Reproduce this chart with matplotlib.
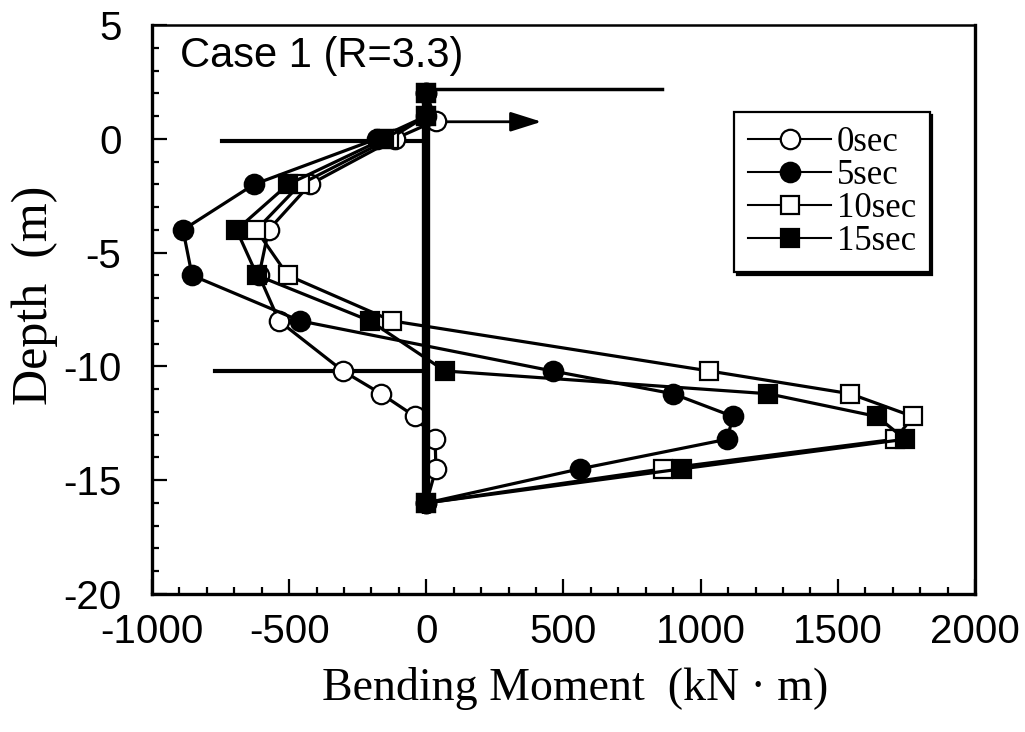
import matplotlib
matplotlib.use('Agg')
import matplotlib.pyplot as plt
from matplotlib.ticker import MultipleLocator

plt.rcParams['axes.unicode_minus'] = False

# depth of the gauges (m)
depth_0 = [2.0, 0.8, 0.0, -2, -4, -6, -8, -10.2, -11.2, -12.2, -13.2, -14.5, -16]
depth_n = [2.0, 1.0, 0.0, -2, -4, -6, -8, -10.2, -11.2, -12.2, -13.2, -14.5, -16]

# bending moment (kN m)
m_0sec = [0, 35, -115, -424, -575, -610, -537, -304, -165, -41, 32, 35, 0]
m_5sec = [0, 0, -180, -628, -887, -854, -460, 460, 899, 1118, 1096, 560, 0]
m_10sec = [0, 0, -135, -460, -620, -505, -125, 1031, 1545, 1774, 1709, 863, 0]
m_15sec = [0, 0, -155, -504, -692, -617, -205, 68, 1246, 1643, 1745, 932, 0]

labels = ['0sec', '5sec', '10sec', '15sec']

sans = ['Liberation Sans', 'DejaVu Sans']
serif = ['Liberation Serif', 'DejaVu Serif']

fig = plt.figure(figsize=(10.25, 7.32), dpi=100)
ax = fig.add_axes([0.1483, 0.1885, 0.8029, 0.7773])

mk = dict(color='k', lw=2.3, markersize=14, markeredgewidth=1.6, markeredgecolor='k', zorder=3)
ax.plot(m_0sec, depth_0, marker='o', markerfacecolor='white', label=labels[0], **mk)
ax.plot(m_5sec, depth_n, marker='o', markerfacecolor='k', label=labels[1], **mk)
ax.plot(m_10sec, depth_n, marker='s', markerfacecolor='white', label=labels[2],
        **{**mk, 'markersize': 13})
ax.plot(m_15sec, depth_n, marker='s', markerfacecolor='k', label=labels[3],
        **{**mk, 'markersize': 13})

# pile and level lines
ax.plot([0, 0], [2.45, -16.5], color='k', lw=6, solid_capstyle='butt', zorder=4)
ax.plot([0, 860], [2.2, 2.2], color='k', lw=2.5, zorder=2)
ax.plot([-745, 0], [-0.1, -0.1], color='k', lw=3, zorder=2)
ax.plot([-770, 0], [-10.2, -10.2], color='k', lw=3, zorder=2)
ax.annotate('', xy=(420, 0.75), xytext=(0, 0.75),
            arrowprops=dict(arrowstyle='-|>,head_length=0.95,head_width=0.3',
                            lw=2, color='k', mutation_scale=20,
                            shrinkA=0, shrinkB=0), zorder=2)

ax.set_xlim(-1000, 2000)
ax.set_ylim(-20, 5)
ax.xaxis.set_major_locator(MultipleLocator(500))
ax.xaxis.set_minor_locator(MultipleLocator(100))
ax.yaxis.set_major_locator(MultipleLocator(5))
ax.yaxis.set_minor_locator(MultipleLocator(1))
ax.tick_params(which='both', direction='in', width=1.6, top=False, right=False)
ax.tick_params(which='major', length=11)
ax.tick_params(which='minor', length=5)
ax.tick_params(axis='y', pad=22)
ax.tick_params(axis='x', pad=14)
for lab in ax.get_xticklabels() + ax.get_yticklabels():
    lab.set_fontfamily(sans)
    lab.set_fontsize(29)
for s in ax.spines.values():
    s.set_linewidth(2.4)
ax.spines['top'].set_linewidth(1.8)

ax.text(0.034, 0.926, 'Case 1 (R=3.3)', transform=ax.transAxes,
        family=sans, fontsize=30, va='baseline', ha='left')

fig.text(0.561, 0.06, 'Bending Moment  (kN \u00b7 m)', family=serif, fontsize=33,
         ha='center', va='center')
fig.text(0.034, 0.597, 'Depth  (m)', family=serif, fontsize=36,
         ha='center', va='center', rotation=90)

leg = ax.legend(loc='upper right', bbox_to_anchor=(0.945, 0.847), fancybox=False,
                shadow={'color': 'k', 'alpha': 1}, framealpha=1, edgecolor='k',
                prop={'family': serif, 'size': 25}, handlelength=2.4,
                handletextpad=0.15, labelspacing=0.0, borderpad=0.4,
                borderaxespad=0)
leg.get_frame().set_linewidth(1.6)
for ln in leg.get_lines():
    ln.set_linewidth(1.5)

plt.savefig('out.png', dpi=100)
